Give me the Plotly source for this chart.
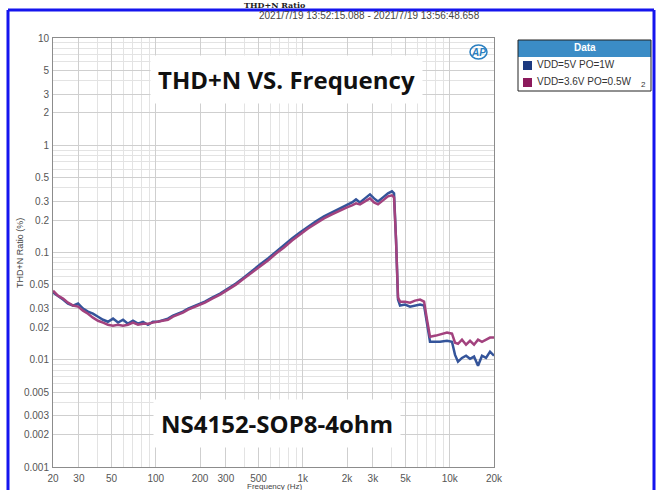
import plotly.graph_objects as go

# sweep frequencies (Hz)
freq = [20, 21.6, 23.4, 25.3, 27.4, 29.6, 32.0, 34.6, 37.4, 40.5, 43.8, 47.3, 51.2, 55.4, 59.9,
        64.7, 70.0, 75.7, 81.9, 88.5, 95.7, 103.5, 112, 121, 131, 142, 153, 166, 179, 194,
        216, 242, 274, 310, 351, 398, 452, 512, 580, 658, 745, 845, 957, 1086, 1230, 1395,
        1581, 1792, 2000, 2163, 2303, 2450, 2650, 2866, 3054, 3251, 3515, 3801, 4047, 4178,
        4310, 4447, 4590, 4965, 5370, 5808, 6281, 6689, 7004, 7339, 8058, 8595, 9575, 10356,
        10864, 11380, 12110, 12910, 13740, 14630, 15570, 16570, 17650, 18790, 20000]

# THD+N ratio (%)
vdd5 = [0.0423, 0.0396, 0.0364, 0.0334, 0.0320, 0.0334, 0.0300, 0.0281, 0.0269, 0.0252,
        0.0236, 0.0226, 0.0242, 0.0222, 0.0236, 0.0217, 0.0231, 0.0217, 0.0226, 0.0212,
        0.0226, 0.0226, 0.0236, 0.0242, 0.0258, 0.0269, 0.0281, 0.0300, 0.0313, 0.0327,
        0.0348, 0.0380, 0.0414, 0.0461, 0.0513, 0.0584, 0.0679, 0.0772, 0.0879, 0.1022,
        0.1162, 0.1351, 0.1537, 0.1750, 0.1949, 0.2170, 0.2365, 0.2577, 0.2750, 0.2933,
        0.3128, 0.2933, 0.3196, 0.3483, 0.3196, 0.2996, 0.3266, 0.3558, 0.3716, 0.3558,
        0.1323, 0.0364, 0.0320, 0.0327, 0.0313, 0.0320, 0.0327, 0.0320, 0.0212, 0.0147,
        0.0147, 0.0147, 0.0150, 0.0147, 0.0111, 0.0096, 0.0104, 0.0109, 0.0102, 0.0107,
        0.0088, 0.0109, 0.0104, 0.0119, 0.0109]

vdd36 = [0.0441, 0.0396, 0.0372, 0.0341, 0.0320, 0.0313, 0.0287, 0.0269, 0.0247, 0.0231,
         0.0222, 0.0212, 0.0208, 0.0212, 0.0208, 0.0212, 0.0222, 0.0212, 0.0217, 0.0217,
         0.0222, 0.0226, 0.0231, 0.0236, 0.0252, 0.0263, 0.0275, 0.0293, 0.0306, 0.0320,
         0.0341, 0.0372, 0.0405, 0.0451, 0.0502, 0.0571, 0.0650, 0.0740, 0.0842, 0.0979,
         0.1113, 0.1295, 0.1473, 0.1676, 0.1866, 0.2078, 0.2265, 0.2469, 0.2633, 0.2750,
         0.2870, 0.2809, 0.2996, 0.3196, 0.2933, 0.2809, 0.3062, 0.3336, 0.3408, 0.3266,
         0.1323, 0.0380, 0.0348, 0.0348, 0.0341, 0.0356, 0.0364, 0.0348, 0.0236, 0.0164,
         0.0168, 0.0171, 0.0179, 0.0175, 0.0144, 0.0141, 0.0154, 0.0138, 0.0150, 0.0138,
         0.0154, 0.0147, 0.0154, 0.0161, 0.0161]

series_names = ["VDD=5V PO=1W", "VDD=3.6V PO=0.5W"]

x_ticks = [20, 30, 50, 100, 200, 300, 500, 1000, 2000, 3000, 5000, 10000, 20000]
x_labels = ["20", "30", "50", "100", "200", "300", "500", "1k", "2k", "3k", "5k", "10k", "20k"]
x_minor = [40, 60, 70, 80, 90, 400, 600, 700, 800, 900, 4000, 6000, 7000, 8000, 9000]

y_ticks = [0.001, 0.002, 0.003, 0.005, 0.01, 0.02, 0.03, 0.05, 0.1, 0.2, 0.3, 0.5, 1, 2, 3, 5, 10]
y_labels = ["0.001", "0.002", "0.003", "0.005", "0.01", "0.02", "0.03", "0.05",
            "0.1", "0.2", "0.3", "0.5", "1", "2", "3", "5", "10"]
y_minor = [0.004, 0.006, 0.007, 0.008, 0.009, 0.04, 0.06, 0.07, 0.08, 0.09,
           0.4, 0.6, 0.7, 0.8, 0.9, 4, 6, 7, 8, 9]

# plot area in pixels
W, H = 658, 490
L, R, T, B = 53, 494, 38, 467


def px(x):
    return (x - L) / (R - L)


def py(y):
    return (B - y) / (B - T)


fig = go.Figure()
fig.add_trace(go.Scatter(x=freq, y=vdd5, mode="lines", name=series_names[0],
                         line=dict(color="#34549a", width=2.5)))
fig.add_trace(go.Scatter(x=freq, y=vdd36, mode="lines", name=series_names[1],
                         line=dict(color="#a2427e", width=2.5)))

tickfont = dict(family="Liberation Sans, Arial", size=10, color="#555555")
fig.update_xaxes(type="log", range=[1.30103, 4.30103], tickvals=x_ticks, ticktext=x_labels,
                 showgrid=True, gridcolor="#cfcfcf", gridwidth=1, tickfont=tickfont,
                 showline=True, mirror=True, linecolor="#8c8c8c", linewidth=1,
                 ticks="", zeroline=False, ticklabelstandoff=2, automargin=False,
                 minor=dict(tickvals=x_minor, showgrid=True, gridcolor="#e3e3e3", gridwidth=1))
fig.update_yaxes(type="log", range=[-3, 1], tickvals=y_ticks, ticktext=y_labels,
                 showgrid=True, gridcolor="#cfcfcf", gridwidth=1, tickfont=tickfont,
                 showline=True, mirror=True, linecolor="#8c8c8c", linewidth=1,
                 ticks="", zeroline=False, ticklabelstandoff=1, automargin=False,
                 minor=dict(tickvals=y_minor, showgrid=True, gridcolor="#e3e3e3", gridwidth=1))

ann = []
# header texts
ann.append(dict(text="<b>THD+N Ratio</b>", x=px(275), y=py(5), xanchor="center", yanchor="middle",
                font=dict(family="DejaVu Serif", size=8, color="#222222")))
ann.append(dict(text="2021/7/19 13:52:15.088 - 2021/7/19 13:56:48.658", x=px(482), y=py(16),
                xanchor="right", yanchor="middle",
                font=dict(family="Liberation Sans, Arial", size=10, color="#444444")))
# big labels on white boxes
ann.append(dict(text="<b>THD+N VS. Frequency</b>", x=px(286), y=py(79), xanchor="center",
                yanchor="middle", bgcolor="white", borderpad=7,
                font=dict(family="Open Sans", size=24, color="#111111")))
ann.append(dict(text="<b>NS4152-SOP8-4ohm</b>", x=px(277), y=py(423), xanchor="center",
                yanchor="middle", bgcolor="white", borderpad=7,
                font=dict(family="Open Sans", size=24, color="#111111")))
# axis titles
ann.append(dict(text="THD+N Ratio (%)", x=px(20), y=py(253), xanchor="center", yanchor="middle",
                textangle=-90, font=dict(family="Liberation Sans, Arial", size=9, color="#444444")))
ann.append(dict(text="Frequency (Hz)", x=px(274), y=py(481), xanchor="center", yanchor="top",
                borderpad=0, font=dict(family="Liberation Sans, Arial", size=8, color="#444444")))
# AP logo
ann.append(dict(text="<b><i>AP</i></b>", x=px(478), y=py(52), xanchor="center", yanchor="middle",
                font=dict(family="Liberation Sans, Arial", size=10, color="#2a7fc0")))
# legend
ann.append(dict(text="<b>Data</b>", x=px(585), y=py(48), xanchor="center", yanchor="middle",
                font=dict(family="Liberation Sans, Arial", size=10, color="white")))
ann.append(dict(text=series_names[0], x=px(535), y=py(65), xanchor="left", yanchor="middle",
                font=dict(family="Liberation Sans, Arial", size=10, color="#333333")))
ann.append(dict(text=series_names[1], x=px(535), y=py(82), xanchor="left", yanchor="middle",
                font=dict(family="Liberation Sans, Arial", size=10, color="#333333")))
ann.append(dict(text="2", x=px(643), y=py(85), xanchor="center", yanchor="middle",
                font=dict(family="Liberation Sans, Arial", size=8, color="#333333")))
for a in ann:
    a.update(xref="paper", yref="paper", showarrow=False)

shapes = []
# blue outer frame
for x0, y0, x1, y1 in [(8, 10, 654, 10), (8, 10, 8, 495), (654, 10, 654, 495)]:
    shapes.append(dict(type="line", x0=px(x0), y0=py(y0), x1=px(x1), y1=py(y1),
                       line=dict(color="#1515ee", width=3)))
# AP logo ring
shapes.append(dict(type="circle", x0=px(470), y0=py(45), x1=px(487), y1=py(59),
                   line=dict(color="#2a7fc0", width=1.5)))
# legend box
shapes.append(dict(type="rect", x0=px(518), y0=py(40), x1=px(651), y1=py(57),
                   fillcolor="#3b8cc6", line=dict(width=0)))
shapes.append(dict(type="rect", x0=px(518), y0=py(40), x1=px(651), y1=py(91),
                   line=dict(color="#222222", width=1)))
shapes.append(dict(type="rect", x0=px(523), y0=py(61), x1=px(532), y1=py(70),
                   fillcolor="#1c3a80", line=dict(width=0)))
shapes.append(dict(type="rect", x0=px(523), y0=py(78), x1=px(532), y1=py(87),
                   fillcolor="#8c1a5c", line=dict(width=0)))
for s in shapes:
    s.update(xref="paper", yref="paper")

fig.update_layout(width=W, height=H, margin=dict(l=L, r=W - R, t=T, b=H - B, autoexpand=False),
                  paper_bgcolor="white", plot_bgcolor="white", showlegend=False,
                  annotations=ann, shapes=shapes)

# page body has a default 8px margin; drop it so the figure sits at the window corner
fig.write_html("out.html", config={"displayModeBar": False},
               post_script="document.body.style.margin='0';document.body.style.overflow='hidden';")
